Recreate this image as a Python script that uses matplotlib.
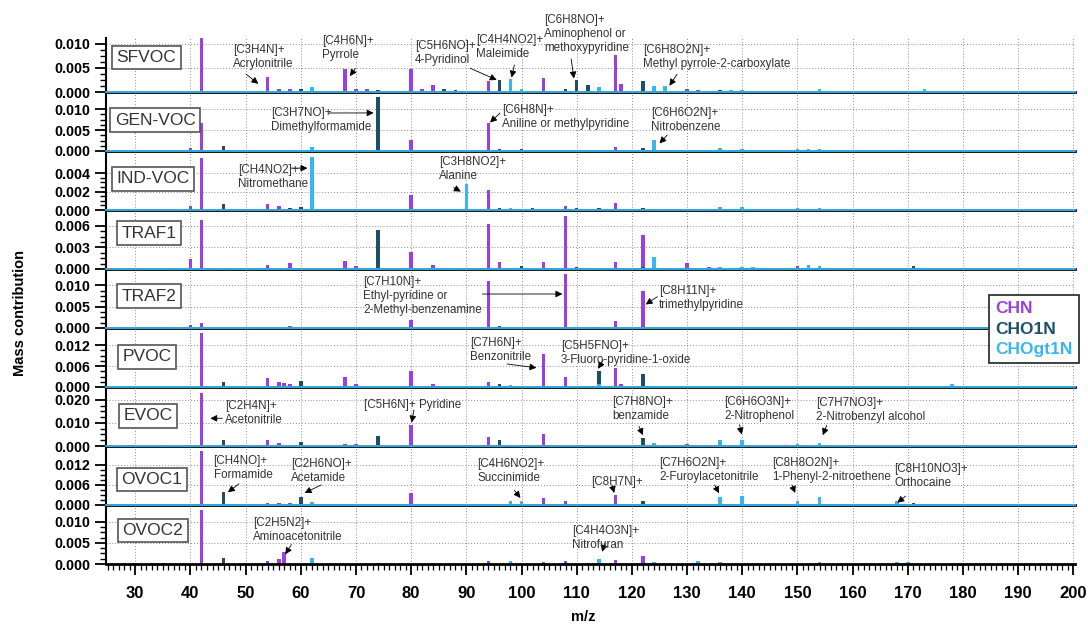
import matplotlib
matplotlib.use("Agg")
import matplotlib.pyplot as plt
from matplotlib.patches import Patch
from matplotlib.ticker import FixedLocator, MultipleLocator, FormatStrFormatter

plt.rcParams["font.family"] = ["Liberation Sans", "DejaVu Sans"]

CHN_COLOR = "#9A3FE3"
CHO1N_COLOR = "#1D4F6B"
CHOGT1N_COLOR = "#38B6F0"

group_names = ["CHN", "CHO1N", "CHOgt1N"]
group_colors = [CHN_COLOR, CHO1N_COLOR, CHOGT1N_COLOR]

# (m/z, mass contribution), one list per factor and group
sfvoc_chn = [(37, 0.0002), (40, 0.0003), (42, 0.0111), (54, 0.0031), (56, 0.0007), (58, 0.0007),
             (68, 0.0047), (70, 0.0006), (72, 0.0006), (80, 0.0047), (82, 0.0007), (84, 0.0015),
             (94, 0.0022), (104, 0.0029), (117, 0.0076), (118, 0.0017), (130, 0.0007),
             (132, 0.0005), (195, 0.0002)]
sfvoc_cho1n = [(28, 0.0002), (30, 0.0002), (31, 0.0002), (33, 0.0002), (35, 0.0002), (46, 0.0002),
               (60, 0.0007), (74, 0.0005), (86, 0.0007), (88, 0.0005), (96, 0.0024), (102, 0.0002),
               (108, 0.0007), (110, 0.0025), (112, 0.0015), (122, 0.0022), (134, 0.0003),
               (136, 0.0005), (146, 0.0002), (148, 0.0002)]
sfvoc_chogt1n = [(62, 0.0011), (98, 0.0027), (100, 0.0006), (114, 0.0011), (124, 0.0013),
                 (126, 0.0012), (128, 0.0003), (138, 0.0005), (140, 0.0005), (142, 0.0002),
                 (150, 0.0003), (152, 0.0003), (154, 0.0006), (156, 0.0002), (158, 0.0002),
                 (162, 0.0002), (164, 0.0002), (166, 0.0002), (168, 0.0002), (170, 0.0002),
                 (173, 0.0006), (185, 0.0002), (191, 0.0002), (197, 0.0002)]

genvoc_chn = [(40, 0.0006), (42, 0.0066), (78, 0.0002), (80, 0.0027), (94, 0.0066), (104, 0.0002),
              (108, 0.0002), (117, 0.0010)]
genvoc_cho1n = [(28, 0.0002), (30, 0.0002), (33, 0.0002), (35, 0.0002), (46, 0.0012), (74, 0.0130),
                (96, 0.0004), (100, 0.0004), (122, 0.0006)]
genvoc_chogt1n = [(62, 0.0009), (98, 0.0002), (124, 0.0027), (136, 0.0006), (140, 0.0005),
                  (142, 0.0002), (150, 0.0005), (152, 0.0004), (154, 0.0004), (168, 0.0002)]

indvoc_chn = [(40, 0.0004), (42, 0.0056), (54, 0.0006), (56, 0.0004), (68, 0.0001), (72, 0.0001),
              (80, 0.0016), (84, 0.0001), (94, 0.0022), (104, 0.0001), (108, 0.0004),
              (117, 0.0008), (196, 0.0001)]
indvoc_cho1n = [(28, 0.0001), (30, 0.0001), (33, 0.0001), (35, 0.0001), (46, 0.0006), (58, 0.0002),
                (60, 0.0003), (86, 0.0001), (88, 0.0001), (96, 0.0002), (102, 0.0002),
                (110, 0.0002), (114, 0.0002), (122, 0.0002), (168, 0.0001)]
indvoc_chogt1n = [(62, 0.0058), (90, 0.0028), (98, 0.0002), (112, 0.0001), (136, 0.0003),
                  (140, 0.0003), (150, 0.0002), (154, 0.0002)]

traf1_chn = [(40, 0.0014), (42, 0.0068), (54, 0.0006), (56, 0.0001), (58, 0.0009), (68, 0.0011),
             (70, 0.0004), (72, 0.0001), (80, 0.0023), (84, 0.0006), (94, 0.0063), (96, 0.0010),
             (104, 0.0010), (108, 0.0074), (117, 0.0010), (118, 0.0002), (122, 0.0047),
             (130, 0.0008), (134, 0.0003), (148, 0.0002), (150, 0.0004)]
traf1_cho1n = [(28, 0.0001), (30, 0.0001), (33, 0.0001), (35, 0.0001), (46, 0.0002), (48, 0.0002),
               (74, 0.0054), (88, 0.0002), (100, 0.0004), (110, 0.0003), (114, 0.0002),
               (122, 0.0003), (171, 0.0004)]
traf1_chogt1n = [(62, 0.0002), (98, 0.0002), (124, 0.0016), (136, 0.0003), (140, 0.0003),
                 (142, 0.0003), (152, 0.0005), (154, 0.0004), (158, 0.0001), (173, 0.0002),
                 (187, 0.0002)]

traf2_chn = [(40, 0.0006), (42, 0.0011), (58, 0.0004), (80, 0.0018), (94, 0.0110), (108, 0.0127),
             (117, 0.0017), (122, 0.0086)]
traf2_cho1n = [(28, 0.0002), (30, 0.0002), (33, 0.0002), (35, 0.0002), (60, 0.0001), (96, 0.0005),
               (114, 0.0003)]
traf2_chogt1n = [(62, 0.0001), (124, 0.0003)]

pvoc_chn = [(40, 0.0002), (42, 0.0154), (54, 0.0025), (56, 0.0014), (57, 0.0012), (58, 0.0010),
            (68, 0.0028), (70, 0.0010), (80, 0.0046), (84, 0.0008), (94, 0.0015), (104, 0.0094),
            (108, 0.0028), (117, 0.0055), (118, 0.0008), (130, 0.0002), (146, 0.0002)]
pvoc_cho1n = [(28, 0.0002), (30, 0.0002), (33, 0.0002), (35, 0.0002), (46, 0.0013), (60, 0.0016),
              (86, 0.0004), (88, 0.0001), (96, 0.0009), (110, 0.0004), (112, 0.0004),
              (114, 0.0045), (122, 0.0038), (136, 0.0003), (171, 0.0004)]
pvoc_chogt1n = [(98, 0.0005), (100, 0.0002), (114, 0.0008), (154, 0.0002), (178, 0.0008)]

evoc_chn = [(40, 0.0005), (42, 0.0229), (54, 0.0028), (56, 0.0012), (58, 0.0002), (68, 0.0007),
            (70, 0.0007), (80, 0.0089), (84, 0.0005), (94, 0.0040), (104, 0.0054), (108, 0.0005),
            (130, 0.0008)]
evoc_cho1n = [(28, 0.0003), (30, 0.0003), (33, 0.0003), (35, 0.0003), (46, 0.0025), (60, 0.0018),
              (74, 0.0043), (86, 0.0002), (88, 0.0002), (96, 0.0025), (110, 0.0005),
              (112, 0.0002), (122, 0.0036), (168, 0.0002), (171, 0.0002)]
evoc_chogt1n = [(98, 0.0002), (114, 0.0002), (124, 0.0014), (136, 0.0028), (140, 0.0024),
                (150, 0.0010), (154, 0.0012)]

ovoc1_chn = [(40, 0.0002), (42, 0.0161), (54, 0.0006), (56, 0.0006), (58, 0.0005), (72, 0.0002),
             (80, 0.0036), (84, 0.0002), (86, 0.0002), (104, 0.0020), (108, 0.0012),
             (117, 0.0031)]
ovoc1_cho1n = [(28, 0.0002), (30, 0.0002), (33, 0.0002), (35, 0.0002), (46, 0.0038), (60, 0.0023),
               (96, 0.0002), (112, 0.0004), (122, 0.0012), (171, 0.0006)]
ovoc1_chogt1n = [(62, 0.0008), (98, 0.0012), (100, 0.0012), (114, 0.0004), (136, 0.0023),
                 (140, 0.0027), (150, 0.0012), (154, 0.0023), (168, 0.0012), (182, 0.0002),
                 (185, 0.0002)]

ovoc2_chn = [(42, 0.0128), (54, 0.0008), (56, 0.0012), (57, 0.0028), (84, 0.0002), (94, 0.0007),
             (104, 0.0005), (108, 0.0007), (117, 0.0010), (122, 0.0019)]
ovoc2_cho1n = [(28, 0.0002), (30, 0.0002), (33, 0.0002), (35, 0.0002), (46, 0.0014), (74, 0.0002),
               (112, 0.0002)]
ovoc2_chogt1n = [(62, 0.0014), (98, 0.0007), (114, 0.0013), (124, 0.0004), (132, 0.0006),
                 (136, 0.0004), (154, 0.0004), (168, 0.0004), (170, 0.0004)]

factor_names = ["SFVOC", "GEN-VOC", "IND-VOC", "TRAF1", "TRAF2", "PVOC", "EVOC", "OVOC1", "OVOC2"]
factor_series = [
    (sfvoc_chn, sfvoc_cho1n, sfvoc_chogt1n),
    (genvoc_chn, genvoc_cho1n, genvoc_chogt1n),
    (indvoc_chn, indvoc_cho1n, indvoc_chogt1n),
    (traf1_chn, traf1_cho1n, traf1_chogt1n),
    (traf2_chn, traf2_cho1n, traf2_chogt1n),
    (pvoc_chn, pvoc_cho1n, pvoc_chogt1n),
    (evoc_chn, evoc_cho1n, evoc_chogt1n),
    (ovoc1_chn, ovoc1_cho1n, ovoc1_chogt1n),
    (ovoc2_chn, ovoc2_cho1n, ovoc2_chogt1n),
]
y_tops = [0.0112, 0.0141, 0.0064, 0.0082, 0.0138, 0.0169, 0.0256, 0.0176, 0.0140]
y_steps = [0.005, 0.005, 0.002, 0.003, 0.005, 0.006, 0.010, 0.006, 0.005]
label_pos = [(0.007, 0.64), (0.005, 0.52), (0.007, 0.53), (0.012, 0.61), (0.012, 0.54),
             (0.013, 0.51), (0.014, 0.51), (0.012, 0.43), (0.013, 0.57)]

# ion annotations: text, text x (m/z), text top (axes frac), arrow start (m/z, axes frac), arrow tip (m/z, value)
annotations = [
    [
        ("[C3H4N]+\nAcrylonitrile", 47.75, 0.89, 50.1, 0.33, 52.3, 0.0017),
        ("[C4H6N]+\nPyrrole", 63.9, 1.06, 69.9, 0.44, 68.9, 0.0033),
        ("[C5H6NO]+\n4-Pyridinol", 80.7, 0.96, 90.7, 0.44, 95.5, 0.0025),
        ("[C4H4NO2]+\nMaleimide", 91.8, 1.07, 98.7, 0.50, 98.2, 0.0030),
        ("[C6H8NO]+\nAminophenol or\nmethoxypyridine", 104.1, 1.44, 109.0, 0.61, 109.5, 0.0028),
        ("[C6H8O2N]+\nMethyl pyrrole-2-carboxylate", 122.0, 0.89, 128.2, 0.33, 126.8, 0.0013),
    ],
    [
        ("[C3H7NO]+\nDimethylformamide", 54.6, 0.75, 65.0, 0.644, 73.2, 0.0091),
        ("[C6H8N]+\nAniline or methylpyridine", 96.5, 0.80, 96.1, 0.644, 94.3, 0.0068),
        ("[C6H6O2N]+\nNitrobenzene", 123.5, 0.75, 126.4, 0.27, 125.0, 0.0018),
    ],
    [
        ("[CH4NO2]+\nNitromethane", 48.6, 0.78, 58.3, 0.71, 61.2, 0.00454),
        ("[C3H8NO2]+\nAlanine", 85.0, 0.915, 87.7, 0.38, 89.0, 0.0020),
    ],
    [],
    [
        ("[C7H10N]+\nEthyl-pyridine or\n2-Methyl-benzenamine", 71.3, 0.88, 92.9, 0.576, 107.4, 0.00795),
        ("[C8H11N]+\ntrimethylpyridine", 124.9, 0.73, 124.6, 0.53, 122.5, 0.0055),
    ],
    [
        ("[C7H6N]+\nBenzonitrile", 90.6, 0.85, 97.4, 0.39, 102.7, 0.0055),
        ("[C5H5FNO]+\n3-Fluoro-pyridine-1-oxide", 107.1, 0.80, 114.8, 0.46, 113.9, 0.0052),
    ],
    [
        ("[C2H4N]+\nAcetonitrile", 46.3, 0.78, 45.8, 0.47, 43.6, 0.0120),
        ("[C5H6N]+ Pyridine", 71.5, 0.80, 80.5, 0.61, 80.1, 0.0102),
        ("[C7H8NO]+\nbenzamide", 116.5, 0.85, 121.3, 0.33, 122.0, 0.0047),
        ("[C6H6O3N]+\n2-Nitrophenol", 136.8, 0.85, 139.5, 0.36, 139.9, 0.0050),
        ("[C7H7NO3]+\n2-Nitrobenzyl alcohol", 153.4, 0.83, 155.3, 0.35, 154.6, 0.0047),
    ],
    [
        ("[CH4NO]+\nFormamide", 44.2, 0.85, 48.8, 0.36, 46.8, 0.0038),
        ("[C2H6NO]+\nAcetamide", 58.2, 0.80, 63.7, 0.34, 60.7, 0.0036),
        ("[C4H6NO2]+\nSuccinimide", 92.0, 0.80, 98.7, 0.25, 99.8, 0.0021),
        ("[C8H7N]+", 112.6, 0.49, 116.4, 0.34, 116.8, 0.0036),
        ("[C7H6O2N]+\n2-Furoylacetonitrile", 124.9, 0.81, 135.0, 0.34, 135.8, 0.0035),
        ("[C8H8O2N]+\n1-Phenyl-2-nitroethene", 145.5, 0.81, 149.0, 0.34, 149.6, 0.0036),
        ("[C8H10NO3]+\nOrthocaine", 167.6, 0.71, 169.6, 0.15, 168.1, 0.0007),
    ],
    [
        ("[C2H5N2]+\nAminoacetonitrile", 51.4, 0.80, 58.3, 0.33, 57.2, 0.0023),
        ("[C4H4O3N]+\nNitrofuran", 109.1, 0.66, 115.1, 0.35, 114.6, 0.0029),
    ],
]

fig, axes = plt.subplots(
    9, 1, figsize=(10.88, 6.25), dpi=100, sharex=True,
    gridspec_kw={"hspace": 0, "height_ratios": [54, 59, 59, 59, 59, 59, 59, 59, 59]},
)
fig.subplots_adjust(left=106 / 1088, right=1075 / 1088, top=1 - 38 / 625, bottom=1 - 564 / 625)

for i, ax in enumerate(axes):
    ax.patch.set_alpha(0)
    ax.set_axisbelow(True)
    for series, color in zip(factor_series[i], group_colors):
        mz = [p[0] for p in series]
        vals = [p[1] for p in series]
        ax.bar(mz, vals, width=0.65, color=color, linewidth=0, zorder=2)

    ax.set_xlim(24.7, 200.3)
    ax.set_ylim(0, y_tops[i])
    step = y_steps[i]
    ax.yaxis.set_major_locator(FixedLocator([0, step, 2 * step]))
    ax.yaxis.set_minor_locator(FixedLocator([k * step / 4 for k in range(1, 9) if k % 4]))
    ax.yaxis.set_major_formatter(FormatStrFormatter("%.3f"))
    ax.xaxis.set_major_locator(MultipleLocator(10))
    ax.xaxis.set_minor_locator(MultipleLocator(1))
    ax.grid(which="major", color="#8c8c8c", linestyle=(0, (1, 2)), linewidth=0.7)

    ax.spines["right"].set_visible(False)
    ax.spines["left"].set_linewidth(1.5)
    ax.spines["bottom"].set_linewidth(2)
    if i == 0:
        ax.spines["top"].set_visible(False)
    else:
        ax.spines["top"].set_color(CHOGT1N_COLOR)
        ax.spines["top"].set_linewidth(1.3)

    ax.tick_params(axis="y", which="major", length=8, width=1.3, pad=3, labelsize=10.3)
    ax.tick_params(axis="y", which="minor", length=4, width=1.0)
    for lbl in ax.get_yticklabels():
        lbl.set_fontweight("bold")
    if i < len(axes) - 1:
        ax.tick_params(axis="x", which="both", bottom=False, labelbottom=False)

    lx, ly = label_pos[i]
    ax.text(lx + 0.004, ly, factor_names[i], transform=ax.transAxes, fontsize=12.5,
            color="#333333", va="center", ha="left", zorder=6,
            bbox=dict(boxstyle="square,pad=0.25", fc="white", ec="#555555", lw=1.2))

    for text, tx, ty, sx, sy, px, py in annotations[i]:
        ax.text(tx, ty, text, transform=ax.get_xaxis_transform(), fontsize=8.4,
                color="#333333", va="top", ha="left", linespacing=1.2, zorder=6)
        ax.annotate("", xy=(px, py), xycoords="data", xytext=(sx, sy),
                    textcoords=ax.get_xaxis_transform(),
                    arrowprops=dict(arrowstyle="-|>", color="black", lw=0.6,
                                    mutation_scale=10, shrinkA=0, shrinkB=0))

last = axes[-1]
last.tick_params(axis="x", which="major", length=8, width=1.3, pad=8, labelsize=12, direction="out")
last.tick_params(axis="x", which="minor", length=4, width=0.9, direction="out")
for lbl in last.get_xticklabels():
    lbl.set_fontweight("bold")

fig.text(20 / 1088, 0.5, "Mass contribution", rotation=90, fontsize=10.5, fontweight="bold",
         va="center", ha="center")
fig.text(583 / 1088, 1 - 617 / 625, "m/z", fontsize=10.5, fontweight="bold", va="center", ha="center")

handles = [Patch(facecolor="none", edgecolor="none") for _ in group_names]
leg = fig.legend(handles, group_names, loc="upper right", bbox_to_anchor=(1079 / 1088, 1 - 295 / 625),
                 handlelength=0, handletextpad=0, borderpad=0.35, labelspacing=0.3,
                 borderaxespad=0, fancybox=False, framealpha=1, edgecolor="#333333",
                 prop={"weight": "bold", "size": 12.5})
leg.get_frame().set_linewidth(1.3)
for txt, color in zip(leg.get_texts(), group_colors):
    txt.set_color(color)

fig.savefig("out.png", dpi=100)
